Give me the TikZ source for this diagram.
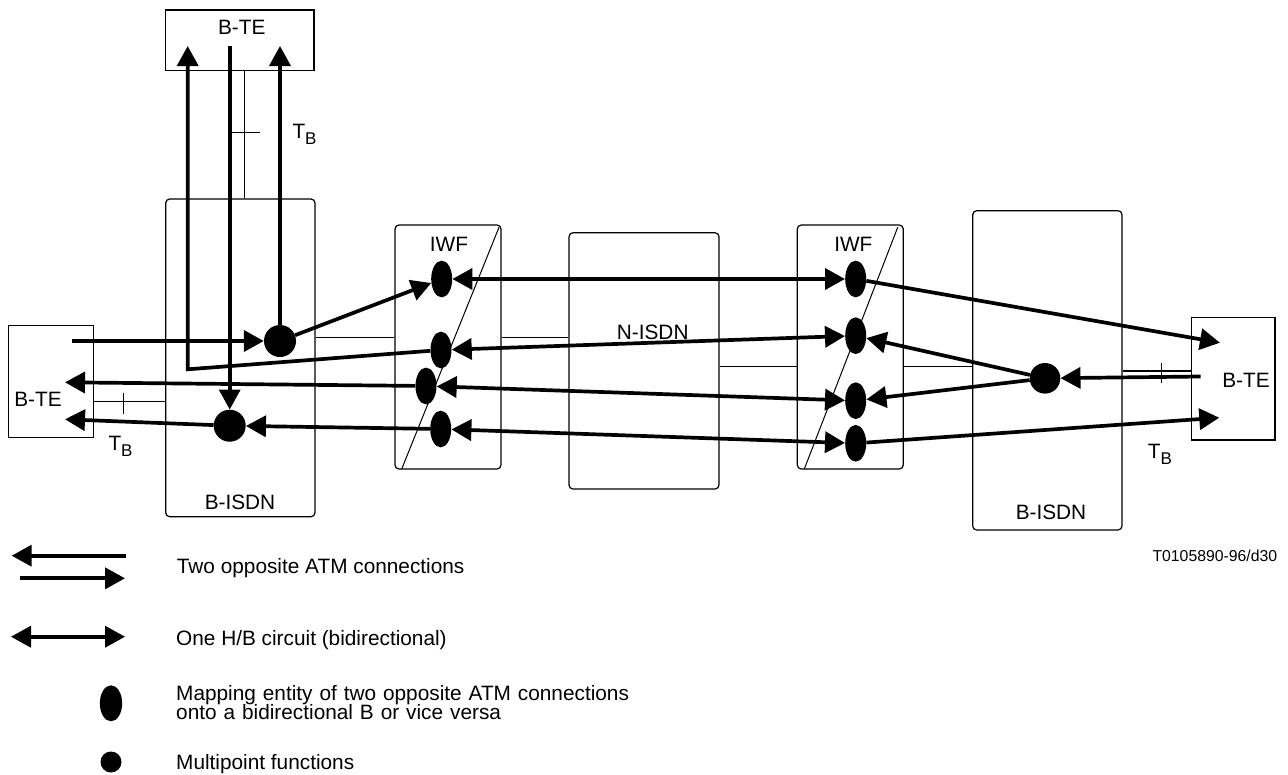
\documentclass[tikz,border=0pt]{standalone}
\usepackage{fontspec}
\setmainfont{Liberation Sans}
\usetikzlibrary{arrows.meta,shapes.geometric,fit}
\newcommand\tbsub{T\raisebox{-6.5pt}{\fontsize{17}{17}\selectfont B}}
\begin{document}
\begin{tikzpicture}[x=1pt,y=-1pt,
  lbl/.style={font=\fontsize{20.8}{24}\selectfont, inner sep=0},
  box/.style={draw, line width=1.2pt, inner sep=0},
  rbox/.style={box, rounded corners=4pt},
  thinln/.style={line width=1.2pt},
  conn/.style={line width=3.7pt},
  tip/.style={-{Triangle[length=20pt,width=21pt]}},
  bitip/.style={{Triangle[length=20pt,width=21pt]}-{Triangle[length=20pt,width=21pt]}},
  ell/.style={ellipse, fill=black, minimum width=21pt, minimum height=36.7pt, inner sep=0},
  mp/.style={circle, fill=black, minimum size=32pt, inner sep=0},
]
\useasboundingbox (0,0) rectangle (1288,774);

% boxes
\node[box, fit={(165.7,10) (314,70.7)}] (topTE) {};
\node[box, fit={(8.3,325.7) (93.7,437.7)}] (leftTE) {};
\node[box, fit={(1191.7,317.7) (1275,440)}] (rightTE) {};
\node[rbox, fit={(165.7,199) (315,516.7)}] (bisdnL) {};
\node[rbox, fit={(395,225) (501,469)}] (iwf1) {};
\node[rbox, fit={(569,232.7) (719,489)}] (nisdn) {};
\node[rbox, fit={(797.3,225) (903.3,469)}] (iwf2) {};
\node[rbox, fit={(972.7,210.7) (1122,530)}] (bisdnR) {};

% labels
\node[lbl] (lTop) at (241.7,27.8) {B-TE};
\node[lbl] (lLeft) at (38,399) {B-TE};
\node[lbl] (lRight) at (1246,380) {B-TE};
\node[lbl] (lBL) at (240,502) {B-ISDN};
\node[lbl] (lBR) at (1051,512) {B-ISDN};
\node[lbl] (lI1) at (449,244) {IWF};
\node[lbl] (lI2) at (853.3,244) {IWF};
\node[lbl] (lN) at (652.7,332) {N-ISDN};
\node[lbl, anchor=base west] (tb1) at (292.3,138.3) {\tbsub};
\node[lbl, anchor=base west] (tb2) at (108.3,450) {\tbsub};
\node[lbl, anchor=base west] (tb3) at (1147.7,458.3) {\tbsub};

% diagonals in IWF
\draw[line width=1pt] (401.7,469) -- (499,227.3);
\draw[line width=1pt] (804.3,469) -- (897.7,227.3);

% thin interface lines
\coordinate (v1) at (244.3,0);
\coordinate (h1) at (0,401.7);
\coordinate (h2) at (0,337.7);
\coordinate (h3) at (0,366.7);
\coordinate (h4) at (0,371);
\draw[thinln] (v1 |- topTE.south) -- (v1 |- bisdnL.north);
\draw[thinln] (231.7,132.7) -- (259.7,132.7);
\draw[thinln] (h1 -| leftTE.east) -- (h1 -| bisdnL.west);
\draw[thinln] (123.3,392.7) -- (123.3,414);
\draw[thinln] (h2 -| bisdnL.east) -- (h2 -| iwf1.west);
\draw[thinln] (h2 -| iwf1.east) -- (h2 -| nisdn.west);
\draw[thinln] (h3 -| nisdn.east) -- (h3 -| iwf2.west);
\draw[thinln] (h3 -| iwf2.east) -- (h3 -| bisdnR.west);
\draw[thinln] (h4 -| bisdnR.east) -- (h4 -| rightTE.west);
\draw[thinln] (1161.7,363.3) -- (1161.7,383.3);

% mapping entities and multipoint functions
\node[ell] (i1e1) at (441.7,279) {};
\node[ell] (i1e2) at (441,350) {};
\node[ell] (i1e3) at (426,386) {};
\node[ell] (i1e4) at (440.7,429) {};
\node[ell] (i2e1) at (855.7,279) {};
\node[ell] (i2e2) at (855.7,335.7) {};
\node[ell] (i2e3) at (855.7,400.7) {};
\node[ell] (i2e4) at (855.7,443.3) {};
\node[mp] (lc1) at (280,341) {};
\node[mp] (lc2) at (229.7,425.7) {};
\node[mp, minimum size=30.6pt] (rc) at (1045,378.3) {};

% free ends
\coordinate (tA) at (187.7,46);
\coordinate (c1) at (187.7,369.3);
\coordinate (tB) at (229.7,46);
\coordinate (tC) at (280,46);
\coordinate (sL) at (71.7,341);
\coordinate (tL1) at (65,382.3);
\coordinate (tL2) at (65,419.3);
\coordinate (tR1) at (1220,342.7);
\coordinate (sR) at (1200.7,376.5);
\coordinate (tR2) at (1219.3,417.7);

% connections
\draw[conn,tip] (sL) -- (lc1);
\draw[conn,tip] (lc1) -- (tC);
\draw[conn,tip] (tB) -- (lc2);
\draw[conn,tip] (i1e2) -- (c1) -- (tA);
\draw[conn,tip] (lc1) -- (i1e1);
\draw[conn,tip] (i1e3) -- (tL1);
\draw[conn,tip] (lc2) -- (tL2);
\draw[conn,tip] (i1e4) -- (lc2);
\draw[conn,bitip] (i1e1) -- (i2e1);
\draw[conn,bitip] (i1e2) -- (i2e2);
\draw[conn,bitip] (i1e3) -- (i2e3);
\draw[conn,bitip] (i1e4) -- (i2e4);
\draw[conn,tip] (i2e1) -- (tR1);
\draw[conn,tip] (i2e4) -- (tR2);
\draw[conn,tip] (rc) -- (i2e2);
\draw[conn,tip] (rc) -- (i2e3);
\draw[conn,tip] (sR) -- (rc);

% legend
\coordinate (g1a) at (126,555.7);
\coordinate (g1b) at (11.7,555.7);
\coordinate (g2a) at (20,578.3);
\coordinate (g2b) at (125,578.3);
\coordinate (g3a) at (11,636.7);
\coordinate (g3b) at (125,636.7);
\draw[conn,tip] (g1a) -- (g1b);
\draw[conn,tip] (g2a) -- (g2b);
\draw[conn,bitip] (g3a) -- (g3b);
\node[ell, minimum width=22.3pt, minimum height=36pt] (lgE) at (111,703.3) {};
\node[mp, minimum size=21pt] (lgC) at (111,762) {};
\node[lbl, anchor=base west] (t1) at (176.7,573.3) {Two opposite ATM connections};
\node[lbl, anchor=base west] (t2) at (176,645) {One H/B circuit (bidirectional)};
\node[lbl, anchor=base west, text width=600pt, align=left,
      font={\fontsize{20.8}{19.5}\selectfont\lineskiplimit=-30pt}] (t3) at (176,700)
      {Mapping entity of two opposite ATM connections\\onto a bidirectional B or vice versa};
\node[lbl, anchor=base west] (t4) at (176,769) {Multipoint functions};
\node[font=\fontsize{15.8}{18}\selectfont, inner sep=0, anchor=base west] (ref) at (1152.3,561.7) {T0105890-96/d30};
\end{tikzpicture}
\end{document}
